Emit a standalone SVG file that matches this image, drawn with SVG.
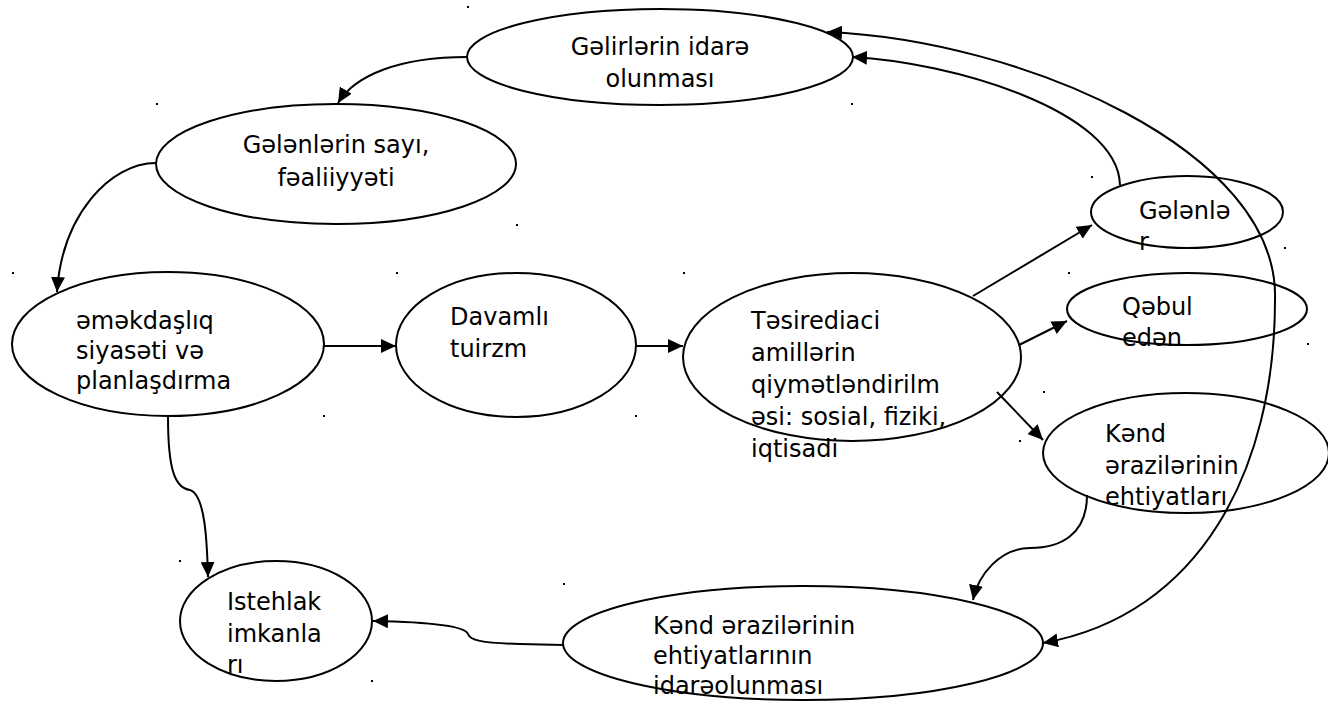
<svg xmlns="http://www.w3.org/2000/svg" width="1328" height="704" viewBox="0 0 1328 704">
<style>
.n{fill:#fff;stroke:#000;stroke-width:2}
.t{font-family:"DejaVu Sans","Noto Sans",sans-serif;font-size:24px;fill:#000}
.c{text-anchor:middle}
.e{fill:none;stroke:#000;stroke-width:2}
.a{marker-end:url(#ah)}
.d{fill:#000}
</style>
<defs>
<marker id="ah" markerUnits="userSpaceOnUse" markerWidth="16" markerHeight="14" refX="15" refY="7" orient="auto-start-reverse">
<path d="M0,0 L15,7 L0,14 z" fill="#000"/>
</marker>
</defs>
<rect width="1328" height="704" fill="#fff"/>
<g id="n1"><ellipse class="n" cx="660" cy="57" rx="193" ry="48"/>
<text class="t c" x="660" y="55">Gəlirlərin idarə</text><text class="t c" x="660" y="87">olunması</text></g>
<g id="n2"><ellipse class="n" cx="336" cy="164" rx="180" ry="60"/>
<text class="t c" x="336" y="153">Gələnlərin sayı,</text><text class="t c" x="336" y="186">fəaliiyyəti</text></g>
<g id="n3"><ellipse class="n" cx="168" cy="344" rx="156" ry="72"/>
<text class="t" x="76" y="329">əməkdaşlıq</text><text class="t" x="76" y="359">siyasəti və</text><text class="t" x="76" y="389">planlaşdırma</text></g>
<g id="n4"><ellipse class="n" cx="516" cy="345" rx="120" ry="72"/>
<text class="t" x="450" y="325">Davamlı</text><text class="t" x="450" y="357">tuirzm</text></g>
<g id="n5"><ellipse class="n" cx="852" cy="357" rx="169" ry="84"/></g>
<g id="n6"><ellipse class="n" cx="1187" cy="212" rx="96" ry="36"/></g>
<g id="n7"><ellipse class="n" cx="1187" cy="309" rx="120" ry="36"/></g>
<g id="n8"><ellipse class="n" cx="1186" cy="453" rx="143" ry="60"/></g>
<g id="n9"><ellipse class="n" cx="276" cy="621" rx="96" ry="60"/>
<text class="t" x="227" y="610">Istehlak</text><text class="t" x="227" y="642">imkanla</text><text class="t" x="227" y="673">rı</text></g>
<g id="n10"><ellipse class="n" cx="803" cy="643" rx="240" ry="57"/></g>
<g id="connectors">
<path class="e a" d="M467,57 C400,57 355,75 338,103"/>
<path class="e a" d="M156,163 C110,163 62,215 57,292"/>
<path class="e a" d="M323,346 L396,346"/>
<path class="e a" d="M636,346 L683,346"/>
<path class="e a" d="M973,296 L1092,225"/>
<path class="e a" d="M1019,345 L1067,321"/>
<path class="e a" d="M997,392 L1043,440"/>
<path class="e a" d="M1120,185 C1118,110 950,62 852,57"/>
<path class="e a" d="M1275,300 C1280,150 1020,40 827,32"/>
<path class="e a" d="M1275,300 C1275,470 1200,615 1043,643"/>
<path class="e a" d="M1087,495 C1087,535 1060,548 1030,548 C1000,548 978,575 973,600"/>
<path class="e a" d="M563,645 L520,644 C480,643 470,640 468,634 C465,626 430,622 373,621"/>
<path class="e a" d="M168,417 C168,470 175,488 190,490 C205,495 207,540 208,577"/>
</g>
<g id="labels">
<text class="t" x="751" y="329">Təsirediaci</text><text class="t" x="751" y="361">amillərin</text><text class="t" x="751" y="393">qiymətləndirilm</text><text class="t" x="751" y="425">əsi: sosial, fiziki,</text><text class="t" x="751" y="457">iqtisadi</text>
<text class="t" x="1139" y="219">Gələnlə</text><text class="t" x="1139" y="250">r</text>
<text class="t" x="1122" y="315">Qəbul</text><text class="t" x="1122" y="346">edən</text>
<text class="t" x="1105" y="442">Kənd</text><text class="t" x="1105" y="474">ərazilərinin</text><text class="t" x="1105" y="505">ehtiyatları</text>
<text class="t" x="653" y="634">Kənd ərazilərinin</text><text class="t" x="653" y="664">ehtiyatlarının</text><text class="t" x="653" y="694">idarəolunması</text>
</g>
<g id="dots">
<rect class="d" x="467" y="6" width="2" height="2"/>
<rect class="d" x="156" y="103" width="2" height="2"/>
<rect class="d" x="851" y="103" width="2" height="2"/>
<rect class="d" x="1091" y="176" width="2" height="2"/>
<rect class="d" x="516" y="224" width="2" height="2"/>
<rect class="d" x="12" y="272" width="2" height="2"/>
<rect class="d" x="396" y="272" width="2" height="2"/>
<rect class="d" x="683" y="272" width="2" height="2"/>
<rect class="d" x="1068" y="272" width="2" height="2"/>
<rect class="d" x="1284" y="247" width="2" height="2"/>
<rect class="d" x="1307" y="343" width="2" height="2"/>
<rect class="d" x="1043" y="391" width="2" height="2"/>
<rect class="d" x="1019" y="440" width="2" height="2"/>
<rect class="d" x="323" y="415" width="2" height="2"/>
<rect class="d" x="635" y="415" width="2" height="2"/>
<rect class="d" x="179" y="560" width="2" height="2"/>
<rect class="d" x="563" y="583" width="2" height="2"/>
<rect class="d" x="371" y="680" width="2" height="2"/>
</g>
</svg>
